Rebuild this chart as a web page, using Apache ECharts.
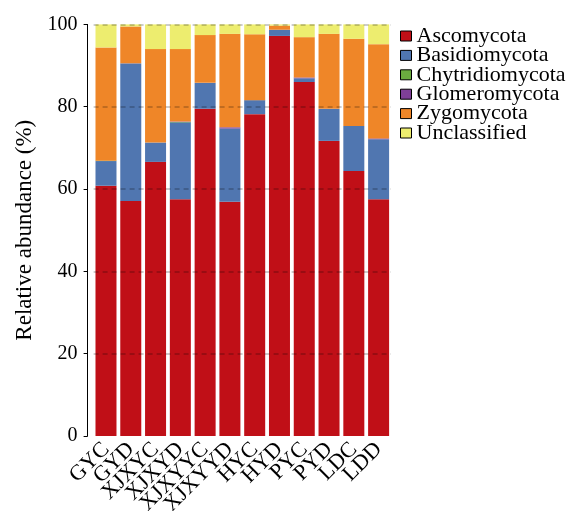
<!DOCTYPE html>
<html>
<head>
<meta charset="utf-8">
<script src="https://cdn.jsdelivr.net/npm/echarts@6/dist/echarts.min.js"></script>
<style>
    html, body { margin: 0; padding: 0; background: #fff; }
    #chart { width: 579px; height: 511px; }
</style>
</head>
<body>
<div id="chart"></div>
<script>
// sample sites
const sites = ['GYC', 'GYD', 'XJXYC', 'XJXYD', 'XJXYYC', 'XJXYYD', 'HYC', 'HYD', 'PYC', 'PYD', 'LDC', 'LDD'];
// relative abundance (%) per phylum
const ascomycota      = [60.8, 57.1, 66.6, 57.5, 79.5, 56.9, 78.2, 97.2, 86.0, 71.7, 64.4, 57.5];
const basidiomycota   = [6.0, 33.3, 4.7, 18.7, 6.3, 17.8, 3.4, 1.5, 0.9, 7.8, 10.9, 14.6];
const chytridiomycota = [0.1, 0.1, 0, 0.1, 0, 0, 0, 0, 0, 0, 0, 0];
const glomeromycota   = [0, 0.1, 0, 0.1, 0, 0.3, 0, 0, 0.2, 0, 0, 0.2];
const zygomycota      = [27.5, 8.9, 22.7, 17.6, 11.6, 22.7, 16.0, 1.0, 9.8, 18.2, 21.2, 22.9];
const unclassified    = [5.6, 0.5, 6.0, 6.0, 2.6, 2.3, 2.4, 0.3, 3.1, 2.3, 3.5, 4.8];
const yTicks = [0, 20, 40, 60, 80, 100];

const serif = '"Liberation Serif", "Times New Roman", serif';

const groups = [
    {name: 'Ascomycota', data: ascomycota, color: '#c00f17'},
    {name: 'Basidiomycota', data: basidiomycota, color: '#5076b0'},
    {name: 'Chytridiomycota', data: chytridiomycota, color: '#6aab3f'},
    {name: 'Glomeromycota', data: glomeromycota, color: '#7f3f98'},
    {name: 'Zygomycota', data: zygomycota, color: '#ef8628'},
    {name: 'Unclassified', data: unclassified, color: '#eded6f'}
];

let chart = echarts.init(document.getElementById('chart'));
const option = {
    backgroundColor: '#fff',
    animation: false,
    grid: {left: 93.6, right: 188, top: 24.4, bottom: 75, outerBoundsMode: 'none', containLabel: false},
    legend: {
        orient: 'vertical',
        left: 400,
        top: 25,
        padding: 0,
        itemWidth: 11,
        itemHeight: 10,
        itemGap: -2.6,
        icon: 'rect',
        itemStyle: {borderColor: '#000', borderWidth: 1},
        textStyle: {fontFamily: serif, fontSize: 22, color: '#000'},
        data: groups.map(g => g.name)
    },
    xAxis: {
        type: 'category',
        data: sites,
        axisLine: {show: false},
        axisTick: {show: false},
        axisLabel: {rotate: 45, margin: 10, fontFamily: serif, fontSize: 22, color: '#000', interval: 0}
    },
    yAxis: {
        type: 'value',
        min: yTicks[0],
        max: yTicks[yTicks.length - 1],
        interval: 20,
        offset: 6,
        z: 10,
        name: 'Relative abundance (%)',
        nameLocation: 'middle',
        nameRotate: 90,
        nameGap: 49,
        nameTextStyle: {fontFamily: serif, fontSize: 23, color: '#000'},
        axisLine: {show: true, lineStyle: {color: '#000', width: 1}},
        axisTick: {show: true, inside: false, length: 4, lineStyle: {color: '#000'}},
        axisLabel: {fontFamily: serif, fontSize: 20, color: '#000', margin: 10},
        splitLine: {
            show: true,
            showMinLine: false,
            lineStyle: {color: 'rgba(0,0,0,0.2)', width: 2, type: [5, 4]}
        }
    },
    series: groups.map(g => ({
        name: g.name,
        type: 'bar',
        stack: 'total',
        barWidth: 21,
        data: g.data,
        itemStyle: {color: g.color}
    }))
};
chart.setOption(option);
window.addEventListener('resize', function () {
    chart.resize();
});
</script>
</body>
</html>
